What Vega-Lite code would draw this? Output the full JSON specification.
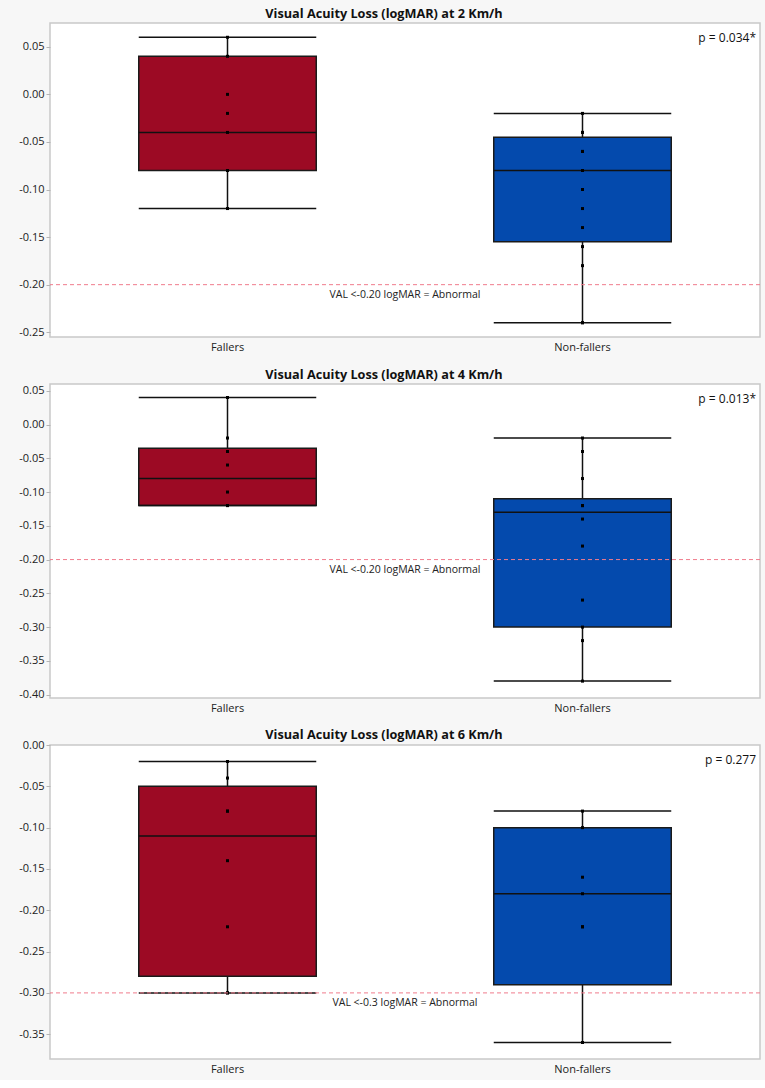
{
  "$schema": "https://vega.github.io/schema/vega-lite/v6.json",
  "background": "#f7f7f7",
  "padding": {"left": 17, "top": 7, "right": 7, "bottom": 5},
  "spacing": 47,
  "bounds": "flush",
  "datasets": {
    "boxes": [
      {"panel": 2, "group": "Fallers", "lo": -0.12, "q1": -0.08, "median": -0.04, "q3": 0.04, "hi": 0.06},
      {"panel": 2, "group": "Non-fallers", "lo": -0.24, "q1": -0.155, "median": -0.08, "q3": -0.045, "hi": -0.02},
      {"panel": 4, "group": "Fallers", "lo": -0.12, "q1": -0.12, "median": -0.08, "q3": -0.035, "hi": 0.04},
      {"panel": 4, "group": "Non-fallers", "lo": -0.38, "q1": -0.30, "median": -0.13, "q3": -0.11, "hi": -0.02},
      {"panel": 6, "group": "Fallers", "lo": -0.30, "q1": -0.28, "median": -0.11, "q3": -0.05, "hi": -0.02},
      {"panel": 6, "group": "Non-fallers", "lo": -0.36, "q1": -0.29, "median": -0.18, "q3": -0.10, "hi": -0.08}
    ],
    "points": [
      {"panel": 2, "group": "Fallers", "val": 0.06},
      {"panel": 2, "group": "Fallers", "val": 0.04},
      {"panel": 2, "group": "Fallers", "val": 0.00},
      {"panel": 2, "group": "Fallers", "val": -0.02},
      {"panel": 2, "group": "Fallers", "val": -0.04},
      {"panel": 2, "group": "Fallers", "val": -0.08},
      {"panel": 2, "group": "Fallers", "val": -0.08},
      {"panel": 2, "group": "Fallers", "val": -0.12},
      {"panel": 2, "group": "Non-fallers", "val": -0.02},
      {"panel": 2, "group": "Non-fallers", "val": -0.04},
      {"panel": 2, "group": "Non-fallers", "val": -0.04},
      {"panel": 2, "group": "Non-fallers", "val": -0.06},
      {"panel": 2, "group": "Non-fallers", "val": -0.06},
      {"panel": 2, "group": "Non-fallers", "val": -0.06},
      {"panel": 2, "group": "Non-fallers", "val": -0.08},
      {"panel": 2, "group": "Non-fallers", "val": -0.08},
      {"panel": 2, "group": "Non-fallers", "val": -0.10},
      {"panel": 2, "group": "Non-fallers", "val": -0.12},
      {"panel": 2, "group": "Non-fallers", "val": -0.14},
      {"panel": 2, "group": "Non-fallers", "val": -0.16},
      {"panel": 2, "group": "Non-fallers", "val": -0.18},
      {"panel": 2, "group": "Non-fallers", "val": -0.24},
      {"panel": 2, "group": "Non-fallers", "val": -0.24},
      {"panel": 4, "group": "Fallers", "val": 0.04},
      {"panel": 4, "group": "Fallers", "val": -0.02},
      {"panel": 4, "group": "Fallers", "val": -0.04},
      {"panel": 4, "group": "Fallers", "val": -0.04},
      {"panel": 4, "group": "Fallers", "val": -0.06},
      {"panel": 4, "group": "Fallers", "val": -0.10},
      {"panel": 4, "group": "Fallers", "val": -0.12},
      {"panel": 4, "group": "Fallers", "val": -0.12},
      {"panel": 4, "group": "Fallers", "val": -0.12},
      {"panel": 4, "group": "Non-fallers", "val": -0.02},
      {"panel": 4, "group": "Non-fallers", "val": -0.04},
      {"panel": 4, "group": "Non-fallers", "val": -0.08},
      {"panel": 4, "group": "Non-fallers", "val": -0.12},
      {"panel": 4, "group": "Non-fallers", "val": -0.12},
      {"panel": 4, "group": "Non-fallers", "val": -0.12},
      {"panel": 4, "group": "Non-fallers", "val": -0.12},
      {"panel": 4, "group": "Non-fallers", "val": -0.14},
      {"panel": 4, "group": "Non-fallers", "val": -0.18},
      {"panel": 4, "group": "Non-fallers", "val": -0.26},
      {"panel": 4, "group": "Non-fallers", "val": -0.30},
      {"panel": 4, "group": "Non-fallers", "val": -0.32},
      {"panel": 4, "group": "Non-fallers", "val": -0.38},
      {"panel": 6, "group": "Fallers", "val": -0.02},
      {"panel": 6, "group": "Fallers", "val": -0.04},
      {"panel": 6, "group": "Fallers", "val": -0.08},
      {"panel": 6, "group": "Fallers", "val": -0.08},
      {"panel": 6, "group": "Fallers", "val": -0.14},
      {"panel": 6, "group": "Fallers", "val": -0.22},
      {"panel": 6, "group": "Fallers", "val": -0.30},
      {"panel": 6, "group": "Fallers", "val": -0.30},
      {"panel": 6, "group": "Non-fallers", "val": -0.08},
      {"panel": 6, "group": "Non-fallers", "val": -0.10},
      {"panel": 6, "group": "Non-fallers", "val": -0.16},
      {"panel": 6, "group": "Non-fallers", "val": -0.18},
      {"panel": 6, "group": "Non-fallers", "val": -0.22},
      {"panel": 6, "group": "Non-fallers", "val": -0.22},
      {"panel": 6, "group": "Non-fallers", "val": -0.36},
      {"panel": 6, "group": "Non-fallers", "val": -0.36}
    ],
    "notes": [
      {"panel": 2, "cutoff": -0.20, "label": "VAL <-0.20 logMAR = Abnormal", "p": "p = 0.034*"},
      {"panel": 4, "cutoff": -0.20, "label": "VAL <-0.20 logMAR = Abnormal", "p": "p = 0.013*"},
      {"panel": 6, "cutoff": -0.30, "label": "VAL <-0.3 logMAR = Abnormal", "p": "p = 0.277"}
    ]
  },
  "vconcat": [
    {
      "title": "Visual Acuity Loss (logMAR) at 2 Km/h",
      "width": 710,
      "height": 314,
      "layer": [
        {
          "data": {"name": "boxes"},
          "transform": [{"filter": "datum.panel == 2"}],
          "encoding": {
            "x": {"field": "group", "type": "nominal", "title": null, "axis": {"labelAngle": 0},
                  "scale": {"domain": ["Fallers", "Non-fallers"], "paddingInner": 0, "paddingOuter": 0}}
          },
          "layer": [
            {
              "mark": {"type": "rule", "stroke": "#111111", "strokeWidth": 1.5},
              "encoding": {
                "y": {"field": "lo", "type": "quantitative", "title": null,
                      "scale": {"domain": [-0.255, 0.075], "nice": false, "zero": false},
                      "axis": {"values": [-0.25, -0.2, -0.15, -0.1, -0.05, 0, 0.05], "tickCount": 10, "format": ".2f", "labelOverlap": false}},
                "y2": {"field": "hi"}
              }
            },
            {
              "mark": {"type": "bar", "width": {"band": 0.5}, "stroke": "#1a1a1a", "strokeWidth": 1.5},
              "encoding": {
                "y": {"field": "q1", "type": "quantitative"},
                "y2": {"field": "q3"},
                "color": {"field": "group", "type": "nominal", "legend": null,
                          "scale": {"domain": ["Fallers", "Non-fallers"], "range": ["#9c0a24", "#044aad"]}}
              }
            },
            {
              "mark": {"type": "bar", "width": {"band": 0.5}, "fillOpacity": 0, "stroke": "#111111", "strokeWidth": 1.5},
              "encoding": {"y": {"field": "median", "type": "quantitative"}, "y2": {"field": "median"}}
            },
            {
              "mark": {"type": "bar", "width": {"band": 0.5}, "fillOpacity": 0, "stroke": "#111111", "strokeWidth": 1.5},
              "encoding": {"y": {"field": "lo", "type": "quantitative"}, "y2": {"field": "lo"}}
            },
            {
              "mark": {"type": "bar", "width": {"band": 0.5}, "fillOpacity": 0, "stroke": "#111111", "strokeWidth": 1.5},
              "encoding": {"y": {"field": "hi", "type": "quantitative"}, "y2": {"field": "hi"}}
            }
          ]
        },
        {
          "data": {"name": "points"},
          "transform": [{"filter": "datum.panel == 2"}],
          "mark": {"type": "square", "size": 9, "color": "#000000", "opacity": 1},
          "encoding": {
            "x": {"field": "group", "type": "nominal"},
            "y": {"field": "val", "type": "quantitative",
                  "axis": {"values": [-0.25, -0.2, -0.15, -0.1, -0.05, 0, 0.05], "tickCount": 10, "format": ".2f", "labelOverlap": false}}
          }
        },
        {
          "data": {"name": "notes"},
          "transform": [{"filter": "datum.panel == 2"}],
          "layer": [
            {
              "mark": {"type": "rule", "stroke": "#f07c8c", "strokeWidth": 1, "strokeDash": [4, 3]},
              "encoding": {"y": {"field": "cutoff", "type": "quantitative"}}
            },
            {
              "mark": {"type": "text", "fontSize": 10.5, "color": "#222222", "baseline": "top", "align": "center", "dy": 5},
              "encoding": {
                "x": {"datum": "Fallers", "bandPosition": 1},
                "y": {"field": "cutoff", "type": "quantitative"},
                "text": {"field": "label"}
              }
            },
            {
              "mark": {"type": "text", "fontSize": 12, "color": "#111111", "baseline": "middle", "align": "right", "dx": -4, "dy": 15},
              "encoding": {
                "x": {"datum": "Non-fallers", "bandPosition": 1},
                "y": {"datum": 0.075},
                "text": {"field": "p"}
              }
            }
          ]
        }
      ]
    },
    {
      "title": "Visual Acuity Loss (logMAR) at 4 Km/h",
      "width": 710,
      "height": 314,
      "layer": [
        {
          "data": {"name": "boxes"},
          "transform": [{"filter": "datum.panel == 4"}],
          "encoding": {
            "x": {"field": "group", "type": "nominal", "title": null, "axis": {"labelAngle": 0},
                  "scale": {"domain": ["Fallers", "Non-fallers"], "paddingInner": 0, "paddingOuter": 0}}
          },
          "layer": [
            {
              "mark": {"type": "rule", "stroke": "#111111", "strokeWidth": 1.5},
              "encoding": {
                "y": {"field": "lo", "type": "quantitative", "title": null,
                      "scale": {"domain": [-0.405, 0.06], "nice": false, "zero": false},
                      "axis": {"values": [-0.4, -0.35, -0.3, -0.25, -0.2, -0.15, -0.1, -0.05, 0, 0.05], "tickCount": 10, "format": ".2f", "labelOverlap": false}},
                "y2": {"field": "hi"}
              }
            },
            {
              "mark": {"type": "bar", "width": {"band": 0.5}, "stroke": "#1a1a1a", "strokeWidth": 1.5},
              "encoding": {
                "y": {"field": "q1", "type": "quantitative"},
                "y2": {"field": "q3"},
                "color": {"field": "group", "type": "nominal", "legend": null,
                          "scale": {"domain": ["Fallers", "Non-fallers"], "range": ["#9c0a24", "#044aad"]}}
              }
            },
            {
              "mark": {"type": "bar", "width": {"band": 0.5}, "fillOpacity": 0, "stroke": "#111111", "strokeWidth": 1.5},
              "encoding": {"y": {"field": "median", "type": "quantitative"}, "y2": {"field": "median"}}
            },
            {
              "mark": {"type": "bar", "width": {"band": 0.5}, "fillOpacity": 0, "stroke": "#111111", "strokeWidth": 1.5},
              "encoding": {"y": {"field": "lo", "type": "quantitative"}, "y2": {"field": "lo"}}
            },
            {
              "mark": {"type": "bar", "width": {"band": 0.5}, "fillOpacity": 0, "stroke": "#111111", "strokeWidth": 1.5},
              "encoding": {"y": {"field": "hi", "type": "quantitative"}, "y2": {"field": "hi"}}
            }
          ]
        },
        {
          "data": {"name": "points"},
          "transform": [{"filter": "datum.panel == 4"}],
          "mark": {"type": "square", "size": 9, "color": "#000000", "opacity": 1},
          "encoding": {
            "x": {"field": "group", "type": "nominal"},
            "y": {"field": "val", "type": "quantitative",
                  "axis": {"values": [-0.4, -0.35, -0.3, -0.25, -0.2, -0.15, -0.1, -0.05, 0, 0.05], "tickCount": 10, "format": ".2f", "labelOverlap": false}}
          }
        },
        {
          "data": {"name": "notes"},
          "transform": [{"filter": "datum.panel == 4"}],
          "layer": [
            {
              "mark": {"type": "rule", "stroke": "#f07c8c", "strokeWidth": 1, "strokeDash": [4, 3]},
              "encoding": {"y": {"field": "cutoff", "type": "quantitative"}}
            },
            {
              "mark": {"type": "text", "fontSize": 10.5, "color": "#222222", "baseline": "top", "align": "center", "dy": 5},
              "encoding": {
                "x": {"datum": "Fallers", "bandPosition": 1},
                "y": {"field": "cutoff", "type": "quantitative"},
                "text": {"field": "label"}
              }
            },
            {
              "mark": {"type": "text", "fontSize": 12, "color": "#111111", "baseline": "middle", "align": "right", "dx": -4, "dy": 15},
              "encoding": {
                "x": {"datum": "Non-fallers", "bandPosition": 1},
                "y": {"datum": 0.06},
                "text": {"field": "p"}
              }
            }
          ]
        }
      ]
    },
    {
      "title": {"text": "Visual Acuity Loss (logMAR) at 6 Km/h", "offset": -3},
      "width": 710,
      "height": 314,
      "layer": [
        {
          "data": {"name": "boxes"},
          "transform": [{"filter": "datum.panel == 6"}],
          "encoding": {
            "x": {"field": "group", "type": "nominal", "title": null, "axis": {"labelAngle": 0},
                  "scale": {"domain": ["Fallers", "Non-fallers"], "paddingInner": 0, "paddingOuter": 0}}
          },
          "layer": [
            {
              "mark": {"type": "rule", "stroke": "#111111", "strokeWidth": 1.5},
              "encoding": {
                "y": {"field": "lo", "type": "quantitative", "title": null,
                      "scale": {"domain": [-0.38, 0.0], "nice": false, "zero": false},
                      "axis": {"values": [-0.35, -0.3, -0.25, -0.2, -0.15, -0.1, -0.05, 0], "tickCount": 10, "format": ".2f", "labelOverlap": false}},
                "y2": {"field": "hi"}
              }
            },
            {
              "mark": {"type": "bar", "width": {"band": 0.5}, "stroke": "#1a1a1a", "strokeWidth": 1.5},
              "encoding": {
                "y": {"field": "q1", "type": "quantitative"},
                "y2": {"field": "q3"},
                "color": {"field": "group", "type": "nominal", "legend": null,
                          "scale": {"domain": ["Fallers", "Non-fallers"], "range": ["#9c0a24", "#044aad"]}}
              }
            },
            {
              "mark": {"type": "bar", "width": {"band": 0.5}, "fillOpacity": 0, "stroke": "#111111", "strokeWidth": 1.5},
              "encoding": {"y": {"field": "median", "type": "quantitative"}, "y2": {"field": "median"}}
            },
            {
              "mark": {"type": "bar", "width": {"band": 0.5}, "fillOpacity": 0, "stroke": "#111111", "strokeWidth": 1.5},
              "encoding": {"y": {"field": "lo", "type": "quantitative"}, "y2": {"field": "lo"}}
            },
            {
              "mark": {"type": "bar", "width": {"band": 0.5}, "fillOpacity": 0, "stroke": "#111111", "strokeWidth": 1.5},
              "encoding": {"y": {"field": "hi", "type": "quantitative"}, "y2": {"field": "hi"}}
            }
          ]
        },
        {
          "data": {"name": "points"},
          "transform": [{"filter": "datum.panel == 6"}],
          "mark": {"type": "square", "size": 9, "color": "#000000", "opacity": 1},
          "encoding": {
            "x": {"field": "group", "type": "nominal"},
            "y": {"field": "val", "type": "quantitative",
                  "axis": {"values": [-0.35, -0.3, -0.25, -0.2, -0.15, -0.1, -0.05, 0], "tickCount": 10, "format": ".2f", "labelOverlap": false}}
          }
        },
        {
          "data": {"name": "notes"},
          "transform": [{"filter": "datum.panel == 6"}],
          "layer": [
            {
              "mark": {"type": "rule", "stroke": "#f07c8c", "strokeWidth": 1, "strokeDash": [4, 3]},
              "encoding": {"y": {"field": "cutoff", "type": "quantitative"}}
            },
            {
              "mark": {"type": "text", "fontSize": 10.5, "color": "#222222", "baseline": "top", "align": "center", "dy": 5},
              "encoding": {
                "x": {"datum": "Fallers", "bandPosition": 1},
                "y": {"field": "cutoff", "type": "quantitative"},
                "text": {"field": "label"}
              }
            },
            {
              "mark": {"type": "text", "fontSize": 12, "color": "#111111", "baseline": "middle", "align": "right", "dx": -4, "dy": 15},
              "encoding": {
                "x": {"datum": "Non-fallers", "bandPosition": 1},
                "y": {"datum": 0.0},
                "text": {"field": "p"}
              }
            }
          ]
        }
      ]
    }
  ],
  "config": {
    "font": "Open Sans",
    "view": {"fill": "#ffffff", "stroke": "#c9c9c9", "strokeWidth": 1.5},
    "axis": {"labelFont": "Open Sans", "labelFontSize": 11, "labelColor": "#222222", "grid": false, "labelOverlap": false, "labelBound": false},
    "axisY": {"tickSize": 4, "tickColor": "#b5b5b5", "labelPadding": 2, "domain": false},
    "axisX": {"ticks": false, "domain": false, "labelPadding": 4},
    "title": {"font": "Open Sans", "fontSize": 12.7, "fontWeight": "bold", "color": "#111111", "offset": 2, "anchor": "middle", "dx": -21},
    "text": {"font": "Open Sans"},
    "locale": {"number": {"decimal": ".", "thousands": ",", "grouping": [3], "currency": ["$", ""], "minus": "-"}}
  }
}
